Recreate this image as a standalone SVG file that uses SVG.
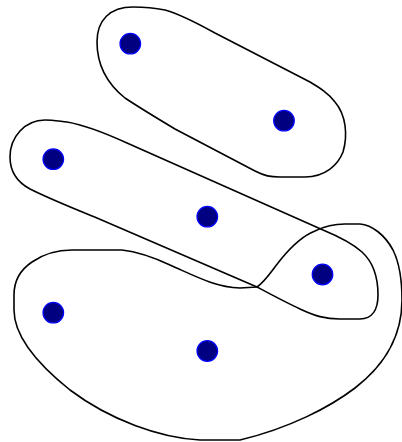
<svg xmlns="http://www.w3.org/2000/svg" width="402" height="442" viewBox="0 0 402 442">
<style>
.edge{fill:none;stroke:#000;stroke-width:1.6}
.v{fill:#000080;stroke:#0000ff;stroke-width:1.2}
</style>
<rect width="402" height="442" fill="#fff"/>
<g id="connectors">
<path id="e1" class="edge" d="M133,7 C110,7 97,20 97,42 C97,62 105,82 125,98 C140,108 160,120 175,129 L255,171 C265,176 270,177 280,177 L305,177 C325,177 338,165 343,152 C348,135 346,115 335,102 C328,93 320,88 310,82 L215,33 C195,22 180,14 165,10 C155,8 145,7 133,7 Z"/>
<path id="e2" class="edge" d="M45,120 C25,120 10,137 10,157 C10,172 17,182 30,189 C50,199 70,207 97,218 L257,287 C272,295 285,302 300,309 C315,316 325,319 340,319 L360,319 C372,319 378,310 378,295 C378,275 373,262 362,252 C352,243 340,237 323,230 L127,143 C105,133 85,125 67,122 C58,121 52,120 45,120 Z"/>
<path id="e3" class="edge" d="M72,250 L122,250 C140,252 155,258 170,265 C195,276 215,287 240,288 L257,287 C266,281 272,270 282,258 C292,246 302,236 315,231 C325,226 335,224 345,224 L360,224 C372,225 385,235 393,250 C399,262 402,278 402,300 C402,335 385,365 355,388 C330,407 290,428 240,440 L200,440 C160,438 110,420 70,390 C35,362 14,335 14,310 L14,295 C14,282 20,270 32,262 C42,255 55,250 72,250 Z"/>
</g>
<g id="n1"><circle class="v" cx="130.3" cy="43.7" r="10.3"/></g>
<g id="n2"><circle class="v" cx="284" cy="120.7" r="10.3"/></g>
<g id="n3"><circle class="v" cx="53.3" cy="159.2" r="10.3"/></g>
<g id="n4"><circle class="v" cx="207.3" cy="216.7" r="10.3"/></g>
<g id="n5"><circle class="v" cx="322.5" cy="274.5" r="10.3"/></g>
<g id="n6"><circle class="v" cx="53.3" cy="312.7" r="10.3"/></g>
<g id="n7"><circle class="v" cx="207.3" cy="351" r="10.3"/></g>
</svg>
